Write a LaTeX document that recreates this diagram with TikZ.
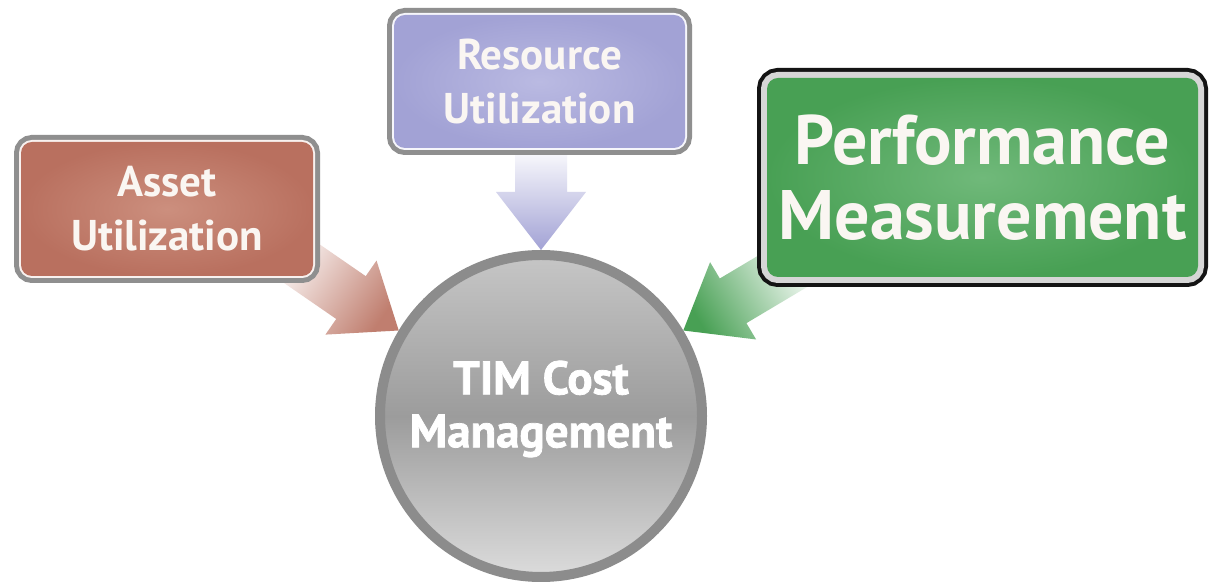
\documentclass[tikz,border=0pt]{standalone}
\usepackage{fontspec}
\setmainfont{PT Sans}
\newfontfamily\heavyfont[BoldFeatures={FakeBold=1.6}]{PT Sans}
\usetikzlibrary{calc,backgrounds}

\definecolor{assetfill}{HTML}{B9705F}
\definecolor{assetlight}{HTML}{CC8F7E}
\definecolor{resfill}{HTML}{A2A2D5}
\definecolor{reslight}{HTML}{BABAE2}
\definecolor{perffill}{HTML}{48A054}
\definecolor{perflight}{HTML}{70B97A}
\definecolor{rimgray}{HTML}{8F8F8F}
\definecolor{hubring}{HTML}{8C8C8C}
\definecolor{hubtop}{HTML}{C6C6C6}
\definecolor{hubmid}{HTML}{9C9C9C}
\definecolor{hubbottom}{HTML}{DCDCDC}
\definecolor{labelwhite}{HTML}{FAF6F2}

\tikzset{
  panel/.style n args={4}{rounded corners=11pt, inner sep=0pt, align=center, text=labelwhite,
    preaction={draw=#1, line width=#3}, preaction={draw=#2, line width=#4}},
  hub/.style={circle, minimum size=322pt, inner sep=0pt, draw=hubring, line width=10pt,
    top color=hubtop, bottom color=hubbottom, middle color=hubmid},
  hubtext/.style={text=white, align=center, inner sep=0pt, yshift=7pt,
    font=\heavyfont\bfseries\fontsize{47}{53}\selectfont},
}

% block arrow: tail, tip, colour, shading angle
\newcommand{\blockarrow}[4]{%
  \coordinate (#1 head) at ($(#2)!58pt!(#1)$);
  \path[top color=white, bottom color=#3, shading angle=#4]
    ($(#1)!26pt!-90:(#2)$) -- ($(#1 head)!26pt!90:(#1)$)
    -- ($(#1 head)!45pt!90:(#1)$) -- (#2)
    -- ($(#1 head)!45pt!-90:(#1)$) -- ($(#1 head)!26pt!-90:(#1)$)
    -- ($(#1)!26pt!90:(#2)$) -- cycle;}

\begin{document}
\begin{tikzpicture}[x=1pt,y=1pt]
  \useasboundingbox (0,0) rectangle (1210,585);

  \node[hub, label={[hubtext]center:{TIM Cost\\Management}}] (hub) at (541,169) {};

  \node[panel={rimgray}{white!90!assetfill}{14pt}{4pt}, minimum width=292pt, minimum height=134pt,
    inner color=assetlight, outer color=assetfill, font=\bfseries\fontsize{43}{54}\selectfont]
    (asset) at (167,376) {Asset\\Utilization};
  \node[panel={rimgray}{white!90!resfill}{14pt}{4pt}, minimum width=291pt, minimum height=133pt,
    inner color=reslight, outer color=resfill, font=\bfseries\fontsize{43}{54}\selectfont]
    (resource) at (539.5,503.5) {Resource\\Utilization};
  \node[panel={black!92}{black!16}{20pt}{12pt}, minimum width=431pt, minimum height=199pt,
    inner color=perflight, outer color=perffill, font=\bfseries\fontsize{70}{75}\selectfont]
    (performance) at (982.5,407.5) {Performance\\Measurement};

  \begin{scope}[on background layer]
    \fill[white] (0,0) rectangle (1210,585);
    \coordinate (asset end) at (282,335);
    \coordinate (resource end) at (541,440);
    \coordinate (performance end) at (805,327);
    \blockarrow{asset end}{hub.149}{assetfill!90!white}{55}
    \blockarrow{resource end}{hub.90}{resfill}{0}
    \blockarrow{performance end}{hub.31}{perffill}{301}
  \end{scope}
\end{tikzpicture}
\end{document}
